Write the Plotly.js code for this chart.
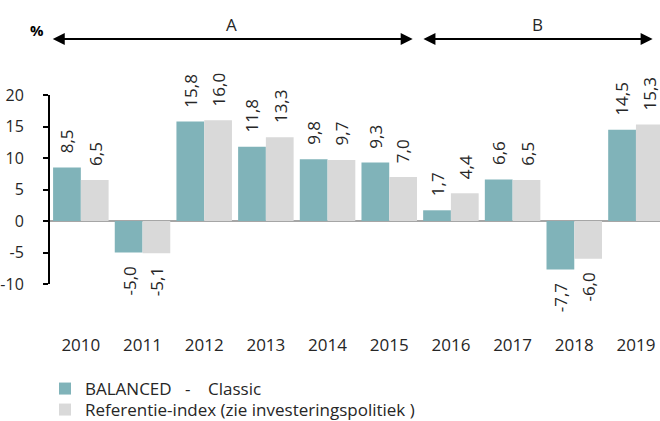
<!DOCTYPE html>
<html>
<head>
<meta charset="utf-8">
<script src="https://cdn.plot.ly/plotly-3.0.1.min.js"></script>
<style>html,body{margin:0;padding:0;background:#fff;}#chart{width:660px;height:421px;}</style>
</head>
<body>
<div id="chart"></div>
<script>
var years = ['2010','2011','2012','2013','2014','2015','2016','2017','2018','2019'];
var balanced = [8.5, -5.0, 15.8, 11.8, 9.8, 9.3, 1.7, 6.6, -7.7, 14.5];
var referentie = [6.5, -5.1, 16.0, 13.3, 9.7, 7.0, 4.4, 6.5, -6.0, 15.3];
var seriesNames = ['BALANCED\u00a0\u00a0\u00a0-\u00a0\u00a0\u00a0\u00a0Classic', 'Referentie-index (zie investeringspolitiek )'];
var yTicks = [-10, -5, 0, 5, 10, 15, 20];
var periods = [
  {label: 'A', from: '2010', to: '2015'},
  {label: 'B', from: '2016', to: '2019'}
];

var FONT = 'Open Sans, sans-serif';
var txtColor = '#262626';
var colors = ['#80b3b9', '#d9d9d9'];

function fmt(v){ return v.toFixed(1).replace('.', ','); }

var traces = [
  {type:'bar', x: years, y: balanced, name: seriesNames[0], marker:{color: colors[0]}, hoverinfo:'skip', legend:'legend'},
  {type:'bar', x: years, y: referentie, name: seriesNames[1], marker:{color: colors[1]}, hoverinfo:'skip', legend:'legend2'}
];

var annotations = [];
[balanced, referentie].forEach(function(arr, si){
  arr.forEach(function(v, i){
    annotations.push({
      x: i, y: v, xref:'x', yref:'y',
      text: fmt(v), showarrow:false, textangle:-90,
      xshift: si === 0 ? -14 : 14,
      yshift: v >= 0 ? 12 : -12,
      yanchor: v >= 0 ? 'bottom' : 'top',
      xanchor: 'center',
      font:{family:FONT, size:17, color:txtColor}
    });
  });
});

var arrowY = 1.296;
periods.forEach(function(p){
  var i0 = years.indexOf(p.from), i1 = years.indexOf(p.to);
  var x0 = i0 - 0.48, x1 = i1 + 0.38;
  if (p.label === 'B') { x0 = i0 - 0.47; x1 = i1 + 0.27; }
  annotations.push({
    x: x1, y: arrowY, xref:'x', yref:'paper',
    ax: x0, ay: 0, axref:'x', ayref:'pixel',
    showarrow:true, arrowhead:2, startarrowhead:2, arrowside:'end+start',
    arrowsize:1.2, startarrowsize:1.2, arrowwidth:2, arrowcolor:'#000', text:''
  });
  annotations.push({
    x: (x0 + x1) / 2, y: arrowY, xref:'x', yref:'paper', yshift:15,
    text: p.label, showarrow:false, xanchor:'center', yanchor:'middle',
    font:{family:FONT, size:17, color:txtColor}
  });
});

annotations.push({
  x: -13/610, y: 1.345, xref:'paper', yref:'paper', text:'<b>%</b>', showarrow:false,
  xanchor:'center', yanchor:'middle', font:{family:FONT, size:15, color:'#000'}
});

var legendBase = {
  orientation:'v', xref:'container', yref:'container',
  x:45/660, xanchor:'left', yanchor:'middle',
  font:{family:FONT, size:17, color:txtColor},
  bgcolor:'rgba(0,0,0,0)', borderwidth:0, tracegroupgap:0
};

var layout = {
  width:660, height:421,
  margin:{l:50, r:0, t:95, b:137, pad:0, autoexpand:false},
  paper_bgcolor:'#fff', plot_bgcolor:'#fff',
  font:{family:FONT, size:17, color:txtColor},
  barmode:'group', bargap:0.1, bargroupgap:0,
  showlegend:true,
  legend: Object.assign({}, legendBase, {y: 1-389/421}),
  legend2: Object.assign({}, legendBase, {y: 1-410/421}),
  xaxis:{
    type:'category', range:[-0.5, 9.39], showline:false, showgrid:false, zeroline:false,
    ticks:'', tickangle:0, ticklabelstandoff:49, tickfont:{family:FONT, size:17, color:txtColor}, fixedrange:true
  },
  yaxis:{
    range:[-10, 20], tickvals: yTicks, ticktext: yTicks.map(String),
    showline:true, linecolor:'#000', linewidth:2,
    ticks:'outside', ticklen:5, tickwidth:2, tickcolor:'#000',
    showgrid:false, zeroline:true, zerolinecolor:'#a6a6a6', zerolinewidth:2,
    ticklabelstandoff:16, tickfont:{family:FONT, size:16, color:txtColor}, fixedrange:true
  },
  annotations: annotations
};

Plotly.newPlot('chart', traces, layout, {staticPlot:true});
</script>
</body>
</html>
